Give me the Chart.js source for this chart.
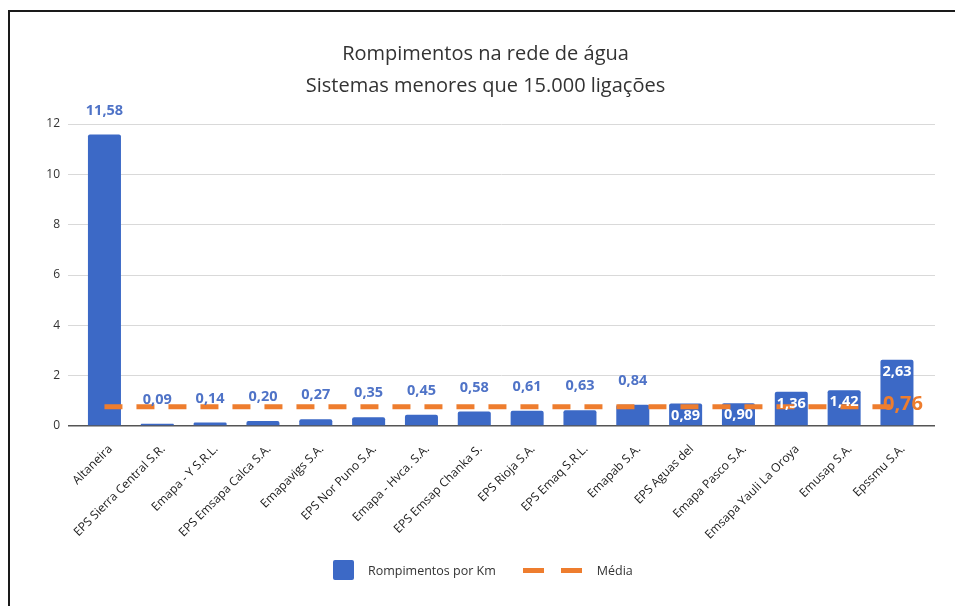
<!DOCTYPE html>
<html lang="pt">
<head>
<meta charset="utf-8">
<title>Rompimentos na rede de água</title>
<script src="https://cdn.jsdelivr.net/npm/chart.js@4.4.1/dist/chart.umd.min.js"></script>
<style>
    html, body { margin: 0; padding: 0; background: #fff; overflow: hidden; }
    #quadro { position: relative; width: 955px; height: 606px; }
    #moldura { position: absolute; left: 8px; top: 10px; width: 980px; height: 620px; border-top: 2px solid #1a1a1a; border-left: 2px solid #1a1a1a; }
    #grafico { position: absolute; left: 0; top: 0; }
    #legenda { position: absolute; top: 560px; left: 333px; display: flex; align-items: center; font: 12.5px "Open Sans", sans-serif; color: #333; }
    #legenda .caixa { width: 21px; height: 20px; border-radius: 2px; margin-right: 14px; }
    #legenda .traco { width: 60px; height: 5px; margin: 0 14px 0 27px; }
</style>
</head>
<body>
<div id="quadro">
    <div id="moldura"></div>
    <canvas id="grafico" width="955" height="606"></canvas>
    <div id="legenda"></div>
</div>
<script>
// Dados
const empresas = [
    'Altaneira', 'EPS Sierra Central S.R.', 'Emapa - Y S.R.L.', 'EPS Emsapa Calca S.A.',
    'Emapavigs S.A.', 'EPS Nor Puno S.A.', 'Emapa - Hvca. S.A.', 'EPS Emsap Chanka S.',
    'EPS Rioja S.A.', 'EPS Emaq S.R.L.', 'Emapab S.A.', 'EPS Aguas del',
    'Emapa Pasco S.A.', 'Emsapa Yauli La Oroya', 'Emusap S.A.', 'Epssmu S.A.'
];
const rompimentosPorKm = [11.58, 0.09, 0.14, 0.20, 0.27, 0.35, 0.45, 0.58, 0.61, 0.63, 0.84, 0.89, 0.90, 1.36, 1.42, 2.63];
const media = 0.76;
const ticksY = [0, 2, 4, 6, 8, 10, 12];

const azul = '#3c69c6';
const laranja = '#ee7d2e';
const fonte = '"Open Sans", sans-serif';
const dentroDesde = 11; // a partir daqui o rótulo vai dentro da barra

const formatar = (v) => v.toFixed(2).replace('.', ',');

// Rótulos de valor por cima (ou dentro) das barras e o da média
const rotulos = {
    id: 'rotulos',
    afterDatasetsDraw: (chart) => {
        const ctx = chart.ctx;
        const barras = chart.getDatasetMeta(0).data;
        ctx.save();
        ctx.textAlign = 'center';
        ctx.textBaseline = 'middle';
        ctx.font = 'bold 14.5px ' + fonte;
        barras.forEach((barra, i) => {
            const texto = formatar(rompimentosPorKm[i]);
            if (i >= dentroDesde) {
                ctx.fillStyle = '#fff';
                ctx.fillText(texto, barra.x, barra.y + 12);
            } else {
                ctx.fillStyle = '#4f73c7';
                ctx.fillText(texto, barra.x, barra.y - 24);
            }
        });
        const ultimo = chart.getDatasetMeta(1).data[empresas.length - 1];
        ctx.font = 'bold 20px ' + fonte;
        ctx.fillStyle = laranja;
        ctx.textAlign = 'left';
        ctx.fillText(formatar(media), ultimo.x - 14, ultimo.y - 3);
        ctx.restore();
    }
};

const grafico = new Chart(document.getElementById('grafico'), {
    type: 'bar',
    data: {
        datasets: [{
            label: 'Rompimentos por Km',
            data: empresas.map((_, i) => ({ x: i, y: rompimentosPorKm[i] })),
            backgroundColor: azul,
            borderRadius: 2,
            categoryPercentage: 1,
            barPercentage: 0.625,
            order: 1
        }, {
            type: 'line',
            label: 'Média',
            data: empresas.map((_, i) => ({ x: i, y: media })),
            borderColor: laranja,
            backgroundColor: laranja,
            borderWidth: 5,
            borderDash: [18, 14],
            pointRadius: 0,
            order: 0
        }]
    },
    options: {
        responsive: false,
        animation: false,
        layout: { padding: { left: 36, right: 20, top: 0, bottom: 0 } },
        plugins: {
            legend: { display: false },
            tooltip: { enabled: false },
            title: {
                display: true,
                text: ['Rompimentos na rede de água', 'Sistemas menores que 15.000 ligações'],
                color: '#333',
                font: { family: fonte, size: 20, weight: 'normal', lineHeight: '32px' },
                padding: { top: 38, bottom: 22 }
            }
        },
        scales: {
            x: {
                type: 'linear',
                min: -0.69,
                max: 15.72,
                bounds: 'data',
                offset: false,
                afterBuildTicks: (escala) => { escala.ticks = empresas.map((_, i) => ({ value: i })); },
                afterFit: (escala) => { escala.height = 180; },
                grid: { display: false },
                border: { display: false },
                ticks: {
                    autoSkip: false,
                    minRotation: 45,
                    maxRotation: 45,
                    padding: 8,
                    labelOffset: 6,
                    color: '#1a1a1a',
                    font: { family: fonte, size: 12 },
                    callback: (v) => empresas[v]
                }
            },
            y: {
                min: 0,
                max: 12,
                afterBuildTicks: (escala) => { escala.ticks = ticksY.map(v => ({ value: v })); },
                afterFit: (escala) => { escala.width = 32; },
                border: { display: false },
                grid: {
                    drawTicks: false,
                    color: (c) => c.tick.value === 0 ? '#555' : '#d9d9d9',
                    lineWidth: (c) => c.tick.value === 0 ? 1.5 : 1
                },
                ticks: { padding: 8, color: '#333', font: { family: fonte, size: 12 } }
            }
        }
    },
    plugins: [rotulos]
});

// Legenda em HTML, a partir dos datasets
const legenda = document.getElementById('legenda');
grafico.data.datasets.forEach((ds) => {
    const marca = document.createElement('span');
    if (ds.type === 'line') {
        marca.className = 'traco';
        marca.style.background = 'repeating-linear-gradient(90deg, ' + ds.borderColor + ' 0 21px, transparent 21px 38px)';
    } else {
        marca.className = 'caixa';
        marca.style.background = ds.backgroundColor;
    }
    const texto = document.createElement('span');
    texto.textContent = ds.label;
    legenda.appendChild(marca);
    legenda.appendChild(texto);
});
</script>
</body>
</html>
